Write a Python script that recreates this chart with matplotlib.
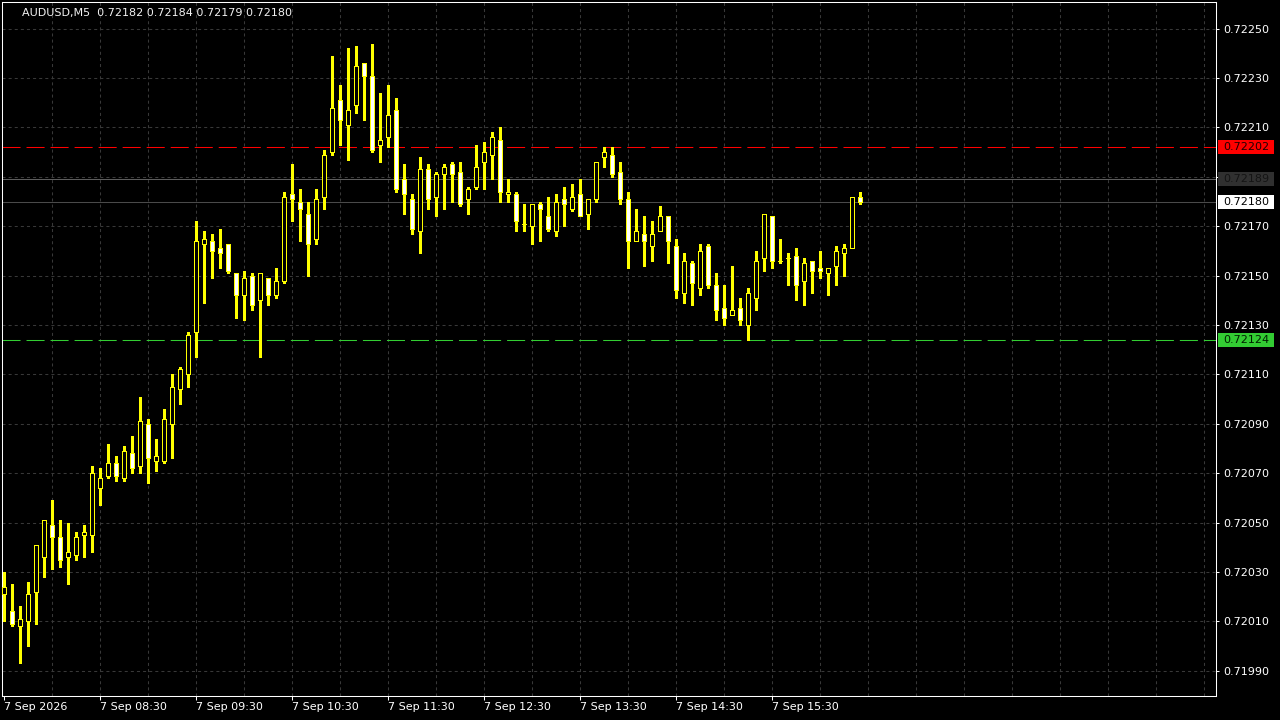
import matplotlib
matplotlib.use('Agg')
import matplotlib.pyplot as plt
import matplotlib.transforms as mtransforms
from matplotlib.patches import Rectangle
import numpy as np

plt.rcParams['font.family'] = ['DejaVu Sans']
plt.rcParams['lines.scale_dashes'] = False

symbol = "AUDUSD,M5"

opens = [0.72021, 0.72014, 0.72008, 0.72010, 0.72022, 0.72036, 0.72049, 0.72044, 0.72036, 0.72037,
         0.72045, 0.72045, 0.72064, 0.72069, 0.72074, 0.72068, 0.72078, 0.72073, 0.72090, 0.72075,
         0.72075, 0.72090, 0.72104, 0.72110, 0.72127, 0.72163, 0.72164, 0.72161, 0.72163, 0.72151,
         0.72142, 0.72150, 0.72140, 0.72149, 0.72142, 0.72148, 0.72183, 0.72180, 0.72175, 0.72165,
         0.72182, 0.72200, 0.72221, 0.72211, 0.72219, 0.72236, 0.72231, 0.72203, 0.72206, 0.72217,
         0.72189, 0.72181, 0.72168, 0.72193, 0.72182, 0.72191, 0.72195, 0.72192, 0.72181, 0.72186,
         0.72196, 0.72199, 0.72205, 0.72183, 0.72183, 0.72171, 0.72170, 0.72179, 0.72174, 0.72168,
         0.72181, 0.72177, 0.72183, 0.72175, 0.72181, 0.72198, 0.72199, 0.72192, 0.72181, 0.72164,
         0.72167, 0.72162, 0.72168, 0.72174, 0.72162, 0.72143, 0.72155, 0.72145, 0.72162, 0.72146,
         0.72137, 0.72134, 0.72137, 0.72130, 0.72141, 0.72157, 0.72174, 0.72156, 0.72157, 0.72158,
         0.72148, 0.72156, 0.72153, 0.72151, 0.72154, 0.72159, 0.72161, 0.72182]
highs = [0.72030, 0.72025, 0.72016, 0.72026, 0.72041, 0.72051, 0.72059, 0.72051, 0.72050, 0.72046,
         0.72049, 0.72073, 0.72072, 0.72082, 0.72077, 0.72081, 0.72085, 0.72101, 0.72092, 0.72084,
         0.72096, 0.72110, 0.72113, 0.72127, 0.72172, 0.72168, 0.72167, 0.72169, 0.72163, 0.72151,
         0.72152, 0.72151, 0.72151, 0.72149, 0.72153, 0.72184, 0.72195, 0.72185, 0.72180, 0.72185,
         0.72201, 0.72239, 0.72227, 0.72242, 0.72243, 0.72236, 0.72244, 0.72224, 0.72227, 0.72222,
         0.72195, 0.72183, 0.72198, 0.72195, 0.72192, 0.72195, 0.72196, 0.72196, 0.72186, 0.72203,
         0.72204, 0.72208, 0.72210, 0.72189, 0.72184, 0.72179, 0.72179, 0.72180, 0.72182, 0.72183,
         0.72186, 0.72187, 0.72189, 0.72181, 0.72196, 0.72202, 0.72202, 0.72196, 0.72184, 0.72177,
         0.72174, 0.72172, 0.72178, 0.72174, 0.72165, 0.72159, 0.72156, 0.72163, 0.72163, 0.72151,
         0.72146, 0.72154, 0.72141, 0.72145, 0.72160, 0.72175, 0.72174, 0.72165, 0.72159, 0.72161,
         0.72157, 0.72156, 0.72160, 0.72153, 0.72162, 0.72163, 0.72182, 0.72184]
lows = [0.72010, 0.72008, 0.71993, 0.72000, 0.72009, 0.72028, 0.72031, 0.72032, 0.72025, 0.72035,
        0.72036, 0.72038, 0.72057, 0.72068, 0.72067, 0.72067, 0.72070, 0.72070, 0.72066, 0.72071,
        0.72074, 0.72076, 0.72098, 0.72105, 0.72117, 0.72139, 0.72149, 0.72153, 0.72151, 0.72133,
        0.72132, 0.72136, 0.72117, 0.72138, 0.72141, 0.72147, 0.72172, 0.72164, 0.72150, 0.72163,
        0.72177, 0.72199, 0.72203, 0.72197, 0.72216, 0.72213, 0.72200, 0.72196, 0.72202, 0.72184,
        0.72175, 0.72167, 0.72159, 0.72177, 0.72174, 0.72177, 0.72180, 0.72178, 0.72175, 0.72185,
        0.72185, 0.72189, 0.72180, 0.72180, 0.72168, 0.72168, 0.72163, 0.72164, 0.72168, 0.72166,
        0.72170, 0.72176, 0.72174, 0.72169, 0.72180, 0.72194, 0.72190, 0.72179, 0.72153, 0.72164,
        0.72154, 0.72156, 0.72168, 0.72155, 0.72141, 0.72139, 0.72138, 0.72142, 0.72145, 0.72132,
        0.72130, 0.72134, 0.72130, 0.72124, 0.72136, 0.72152, 0.72153, 0.72155, 0.72146, 0.72140,
        0.72138, 0.72143, 0.72149, 0.72142, 0.72146, 0.72150, 0.72161, 0.72179]
closes = [0.72024, 0.72009, 0.72011, 0.72021, 0.72041, 0.72051, 0.72044, 0.72035, 0.72038, 0.72044,
          0.72046, 0.72070, 0.72068, 0.72074, 0.72069, 0.72079, 0.72072, 0.72091, 0.72076, 0.72077,
          0.72092, 0.72105, 0.72112, 0.72126, 0.72164, 0.72165, 0.72160, 0.72159, 0.72152, 0.72142,
          0.72149, 0.72138, 0.72151, 0.72142, 0.72148, 0.72182, 0.72181, 0.72177, 0.72163, 0.72181,
          0.72199, 0.72218, 0.72213, 0.72217, 0.72235, 0.72231, 0.72201, 0.72205, 0.72215, 0.72185,
          0.72183, 0.72169, 0.72193, 0.72181, 0.72191, 0.72194, 0.72191, 0.72179, 0.72185, 0.72194,
          0.72200, 0.72206, 0.72184, 0.72184, 0.72172, 0.72171, 0.72179, 0.72177, 0.72169, 0.72180,
          0.72179, 0.72182, 0.72174, 0.72181, 0.72196, 0.72200, 0.72191, 0.72181, 0.72164, 0.72168,
          0.72164, 0.72167, 0.72174, 0.72164, 0.72144, 0.72156, 0.72147, 0.72160, 0.72146, 0.72136,
          0.72133, 0.72136, 0.72132, 0.72143, 0.72156, 0.72175, 0.72156, 0.72156, 0.72157, 0.72146,
          0.72155, 0.72152, 0.72152, 0.72153, 0.72160, 0.72161, 0.72182, 0.72180]

time_labels = ["7 Sep 2026", "7 Sep 08:30", "7 Sep 09:30", "7 Sep 10:30", "7 Sep 11:30",
               "7 Sep 12:30", "7 Sep 13:30", "7 Sep 14:30", "7 Sep 15:30"]
price_ticks = [0.71990, 0.72010, 0.72030, 0.72050, 0.72070, 0.72090, 0.72110, 0.72130,
               0.72150, 0.72170, 0.72190, 0.72210, 0.72230, 0.72250]

red_level = 0.72202
green_level = 0.72124
ask_level = 0.72189
bid_level = 0.72180

W, H = 1280, 720
fig = plt.figure(figsize=(W / 100, H / 100), dpi=100, facecolor='black')
ax = fig.add_axes([2 / W, 24 / H, 1214 / W, 694 / H])
ax.set_facecolor('black')

n = len(opens)
x = np.arange(n)
o = np.array(opens); h = np.array(highs); l = np.array(lows); c = np.array(closes)

ax.set_xlim(-0.1875, 151.5625)
ymax = 0.72260814
ymin = ymax - 0.0028108
ax.set_ylim(ymin, ymax)

grid_col = '#383838'
for gx in range(6, 152, 6):
    ax.axvline(gx, color=grid_col, lw=0.75, linestyle=(0, (2.2, 2.2)), zorder=0.5)
for gy in price_ticks:
    ax.axhline(gy, color=grid_col, lw=0.75, linestyle=(0, (2.2, 2.2)), zorder=0.5)

# level lines
ax.axhline(ask_level, color='#5e5e5e', lw=0.75, zorder=0.8)
ax.axhline(bid_level, color='#4a4a4a', lw=0.75, zorder=0.8)
ax.axhline(red_level, color='#ff0000', lw=0.75, linestyle=(0, (13, 4.3)), zorder=0.8)
ax.axhline(green_level, color='#32cd32', lw=0.75, linestyle=(0, (13, 4.3)), zorder=0.8)

# candles
yellow = '#ffff00'
ax.vlines(x, l, h, color=yellow, lw=0.75, zorder=2, antialiased=False)
bottoms = np.minimum(o, c)
heights = np.abs(c - o)
fills = np.where(c > o, 'black', np.where(c < o, 'white', yellow))
ax.bar(x, heights, bottom=bottoms, width=0.5, color=list(fills), edgecolor=yellow,
       linewidth=0.72, zorder=3, antialiased=False)

for s in ax.spines.values():
    s.set_color('white')
    s.set_linewidth(0.75)

ax.set_xticks(np.arange(0, 12 * len(time_labels), 12))
ax.set_xticklabels(time_labels, ha='left')
ax.tick_params(axis='x', colors='white', length=3, width=0.75, pad=1.5, labelsize=8)
ax.yaxis.tick_right()
ax.set_yticks(price_ticks)
ax.set_yticklabels(['' if abs(p - ask_level) < 0.00005 else f"{p:.5f}" for p in price_ticks])
ax.tick_params(axis='y', colors='white', length=2.5, width=0.75, pad=3, labelsize=8)

# price tags on the right
trans = mtransforms.blended_transform_factory(fig.transFigure, ax.transData)
box_h = 14 / 694 * (ymax - ymin)
tags = [(red_level, '#ff0000', '#200000'), (ask_level, '#303030', '#141414'),
        (bid_level, '#ffffff', '#000000'), (green_level, '#33cc33', '#002000')]
for lvl, bg, fg in tags:
    ax.add_patch(Rectangle((1218 / W, lvl - box_h / 2), 56 / W, box_h, transform=trans,
                           facecolor=bg, edgecolor='none', clip_on=False, zorder=5))
    ax.text(1223 / W, lvl, f"{lvl:.5f}", transform=trans, color=fg, fontsize=8,
            va='center', ha='left', clip_on=False, zorder=6)

title = f"{symbol}  {opens[-1]:.5f} {highs[-1]:.5f} {lows[-1]:.5f} {closes[-1]:.5f}"
fig.text(22 / W, 1 - 13 / H, title, color='#f2f2f2', fontsize=8, va='center', ha='left')

fig.savefig('out.png', dpi=100, facecolor='black')
